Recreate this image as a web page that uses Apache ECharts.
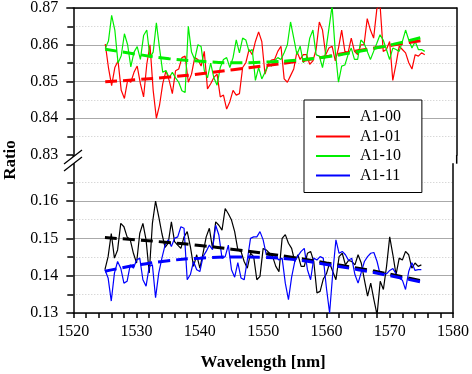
<!DOCTYPE html>
<html>
<head>
<meta charset="utf-8">
<script src="https://cdn.jsdelivr.net/npm/echarts@6/dist/echarts.min.js"></script>
<style>
  html, body { margin: 0; padding: 0; background: #fff; }
  #chart { width: 472px; height: 374px; }
</style>
</head>
<body>
<div id="chart"></div>
<script>
// wavelength grid [nm]
const wavelength = [
  1525, 1525.5, 1526, 1526.5, 1527, 1527.5, 1528, 1528.5, 1529, 1529.5,
  1530, 1530.5, 1531, 1531.5, 1532, 1532.5, 1533, 1533.5, 1534, 1534.5,
  1535, 1535.5, 1536, 1536.5, 1537, 1537.5, 1538, 1538.5, 1539, 1539.5,
  1540, 1540.5, 1541, 1541.5, 1542, 1542.5, 1543, 1543.5, 1544, 1544.5,
  1545, 1545.5, 1546, 1546.5, 1547, 1547.5, 1548, 1548.5, 1549, 1549.5,
  1550, 1550.5, 1551, 1551.5, 1552, 1552.5, 1553, 1553.5, 1554, 1554.5,
  1555, 1555.5, 1556, 1556.5, 1557, 1557.5, 1558, 1558.5, 1559, 1559.5,
  1560, 1560.5, 1561, 1561.5, 1562, 1562.5, 1563, 1563.5, 1564, 1564.5,
  1565, 1565.5, 1566, 1566.5, 1567, 1567.5, 1568, 1568.5, 1569, 1569.5,
  1570, 1570.5, 1571, 1571.5, 1572, 1572.5, 1573, 1573.5, 1574, 1574.5,
  1575
];

const a100 = [
  0.1416, 0.1451, 0.1513, 0.1447, 0.1469, 0.1540, 0.1531, 0.1504, 0.1496, 0.1460,
  0.1434, 0.1513, 0.1540, 0.1496, 0.1407, 0.1540, 0.1600, 0.1558, 0.1513, 0.1476,
  0.1487, 0.1544, 0.1491, 0.1482, 0.1473, 0.1504, 0.1518, 0.1478, 0.1425, 0.1456,
  0.1420, 0.1460, 0.1504, 0.1527, 0.1473, 0.1544, 0.1535, 0.1522, 0.1580, 0.1566,
  0.1549, 0.1518, 0.1469, 0.1465, 0.1438, 0.1420, 0.1460, 0.1451, 0.1389, 0.1398,
  0.1473, 0.1469, 0.1460, 0.1451, 0.1425, 0.1411, 0.1500, 0.1510, 0.1487, 0.1473,
  0.1438, 0.1456, 0.1425, 0.1425, 0.1460, 0.1465, 0.1438, 0.1354, 0.1358, 0.1391,
  0.1405, 0.1434, 0.1411, 0.1389, 0.1451, 0.1460, 0.1429, 0.1441, 0.1438, 0.1429,
  0.1456, 0.1434, 0.1389, 0.1345, 0.1380, 0.1336, 0.1295, 0.1385, 0.1363, 0.1425,
  0.1504, 0.1456, 0.1403, 0.1447, 0.1442, 0.1465, 0.1456, 0.1420, 0.1434, 0.1425,
  0.1429
];

const a101 = [
  0.8602, 0.8538, 0.8489, 0.8538, 0.8556, 0.8476, 0.8454, 0.8503, 0.8498, 0.8525,
  0.8542, 0.8494, 0.8458, 0.8547, 0.8600, 0.8476, 0.8400, 0.8436, 0.8494, 0.8529,
  0.8503, 0.8467, 0.8529, 0.8534, 0.8565, 0.8569, 0.8498, 0.8520, 0.8565, 0.8560,
  0.8542, 0.8582, 0.8480, 0.8494, 0.8511, 0.8520, 0.8458, 0.8463, 0.8425, 0.8445,
  0.8476, 0.8463, 0.8467, 0.8538, 0.8551, 0.8587, 0.8573, 0.8609, 0.8635, 0.8609,
  0.8520, 0.8547, 0.8558, 0.8560, 0.8582, 0.8596, 0.8507, 0.8498, 0.8516, 0.8534,
  0.8582, 0.8560, 0.8573, 0.8573, 0.8547, 0.8556, 0.8587, 0.8662, 0.8640, 0.8573,
  0.8591, 0.8596, 0.8556, 0.8591, 0.8640, 0.8582, 0.8578, 0.8618, 0.8582, 0.8573,
  0.8600, 0.8600, 0.8671, 0.8640, 0.8618, 0.8697, 0.8710, 0.8582, 0.8587, 0.8609,
  0.8503, 0.8547, 0.8596, 0.8587, 0.8578, 0.8551, 0.8534, 0.8573, 0.8569, 0.8578,
  0.8573
];

const a110 = [
  0.8590, 0.8610, 0.8680, 0.8640, 0.8550, 0.8570, 0.8630, 0.8600, 0.8540, 0.8580,
  0.8595, 0.8560, 0.8625, 0.8640, 0.8565, 0.8580, 0.8660, 0.8590, 0.8525, 0.8530,
  0.8510, 0.8525, 0.8510, 0.8498, 0.8475, 0.8470, 0.8650, 0.8580, 0.8560, 0.8600,
  0.8595, 0.8530, 0.8510, 0.8550, 0.8510, 0.8490, 0.8538, 0.8560, 0.8565, 0.8538,
  0.8565, 0.8613, 0.8578, 0.8618, 0.8613, 0.8582, 0.8587, 0.8503, 0.8538, 0.8507,
  0.8525, 0.8547, 0.8542, 0.8556, 0.8565, 0.8560, 0.8578, 0.8600, 0.8662, 0.8618,
  0.8573, 0.8596, 0.8551, 0.8565, 0.8618, 0.8640, 0.8573, 0.8569, 0.8538, 0.8582,
  0.8644, 0.8706, 0.8582, 0.8498, 0.8542, 0.8545, 0.8573, 0.8591, 0.8560, 0.8560,
  0.8613, 0.8604, 0.8582, 0.8560, 0.8582, 0.8604, 0.8627, 0.8613, 0.8587, 0.8560,
  0.8591, 0.8587, 0.8582, 0.8609, 0.8640, 0.8613, 0.8591, 0.8609, 0.8587, 0.8587,
  0.8582
];

const a111 = [
  0.1416, 0.1394, 0.1332, 0.1407, 0.1438, 0.1420, 0.1380, 0.1385, 0.1429, 0.1420,
  0.1442, 0.1447, 0.1389, 0.1372, 0.1425, 0.1429, 0.1341, 0.1407, 0.1447, 0.1482,
  0.1496, 0.1478, 0.1500, 0.1504, 0.1531, 0.1527, 0.1389, 0.1403, 0.1438, 0.1416,
  0.1411, 0.1451, 0.1465, 0.1482, 0.1470, 0.1535, 0.1509, 0.1447, 0.1451, 0.1482,
  0.1416, 0.1396, 0.1435, 0.1394, 0.1389, 0.1442, 0.1500, 0.1504, 0.1504, 0.1518,
  0.1496, 0.1456, 0.1454, 0.1447, 0.1451, 0.1442, 0.1447, 0.1380, 0.1336, 0.1396,
  0.1438, 0.1453, 0.1465, 0.1473, 0.1416, 0.1389, 0.1447, 0.1442, 0.1451, 0.1447,
  0.1367, 0.1300, 0.1407, 0.1496, 0.1460, 0.1465, 0.1456, 0.1441, 0.1447, 0.1403,
  0.1380, 0.1409, 0.1438, 0.1451, 0.1460, 0.1462, 0.1438, 0.1403, 0.1407, 0.1405,
  0.1414, 0.1419, 0.1405, 0.1394, 0.1388, 0.1363, 0.1411, 0.1435, 0.1414, 0.1416,
  0.1416
];

// fitted curves (dashed)
const fitWl = [1525, 1530, 1535, 1540, 1545, 1550, 1555, 1560, 1565, 1570, 1575];
const fit100 = [0.1502, 0.1496, 0.1489, 0.1481, 0.1471, 0.1460, 0.1448, 0.1434, 0.1420, 0.1404, 0.1386];
const fit101 = [0.8499, 0.8505, 0.8512, 0.8521, 0.8532, 0.8543, 0.8555, 0.8569, 0.8585, 0.8599, 0.8613];
const fit110 = [0.8588, 0.8574, 0.8562, 0.8555, 0.8551, 0.8553, 0.8558, 0.8568, 0.8583, 0.8601, 0.8622];
const fit111 = [0.1412, 0.1428, 0.1440, 0.1447, 0.1450, 0.1449, 0.1443, 0.1430, 0.1416, 0.1400, 0.1383];

const xTicks = [1520, 1580, 10];
const yTop = [0.83, 0.87];
const yBottom = [0.13, 0.17];

const FONT = "Liberation Serif";
const pair = (xs, ys) => xs.map((x, i) => [x, ys[i]]);

const plotL = 73.3, plotR = 15.3;
const topY = 5.7, bandH = 149.3, botY = 163.7;

function yAxisCfg(grid, range, showMax) {
  return {
    type: "value",
    gridIndex: grid,
    min: range[0],
    max: range[1],
    interval: 0.01,
    axisLine: { show: true, lineStyle: { color: "#000", width: 1.5 } },
    axisTick: { show: true, inside: false, length: 7, lineStyle: { color: "#000", width: 1.5 } },
    minorTick: { show: true, splitNumber: 2, length: 6, lineStyle: { color: "#000", width: 1.5 } },
    axisLabel: {
      fontFamily: FONT,
      fontSize: 16,
      color: "#000",
      margin: 15,
      formatter: (v) => (showMax || v < range[1] - 1e-9 ? v.toFixed(2) : ""),
    },
    splitLine: {
      show: true,
      showMinLine: grid === 1,
      showMaxLine: showMax,
      lineStyle: { color: "#aaa", width: 1 },
    },
    minorSplitLine: { show: true, lineStyle: { color: "#c8c8c8", width: 1, type: [1, 2] } },
  };
}

function rightAxis(grid, range) {
  return {
    type: "value",
    gridIndex: grid,
    position: "right",
    min: range[0],
    max: range[1],
    axisLine: { show: true, lineStyle: { color: "#000", width: 1.5 } },
    axisTick: { show: false },
    axisLabel: { show: false },
    splitLine: { show: false },
  };
}

function dataLine(name, color, values, xi, yi) {
  return {
    name,
    type: "line",
    xAxisIndex: xi,
    yAxisIndex: yi,
    symbol: "none",
    data: pair(wavelength, values),
    lineStyle: { color, width: 1.2 },
    itemStyle: { color },
  };
}

function fitLine(name, color, values, xi, yi) {
  return {
    name,
    type: "line",
    xAxisIndex: xi,
    yAxisIndex: yi,
    symbol: "none",
    smooth: true,
    data: pair(fitWl, values),
    lineStyle: { color, width: 3, type: [12, 6] },
    itemStyle: { color },
    z: 3,
  };
}

const chart = echarts.init(document.getElementById("chart"));
chart.setOption({
  backgroundColor: "#fff",
  animation: false,
  grid: [
    { left: plotL, right: plotR, top: topY, height: bandH },
    { left: plotL, right: plotR, top: botY, height: bandH },
  ],
  xAxis: [
    {
      type: "value",
      gridIndex: 0,
      position: "top",
      min: xTicks[0],
      max: xTicks[1],
      interval: xTicks[2],
      axisLine: { show: true, lineStyle: { color: "#000", width: 1.5 } },
      axisTick: { show: false },
      axisLabel: { show: false },
      splitLine: { show: false },
    },
    {
      type: "value",
      gridIndex: 1,
      min: xTicks[0],
      max: xTicks[1],
      interval: xTicks[2],
      name: "Wavelength [nm]",
      nameLocation: "middle",
      nameGap: 41,
      nameTextStyle: { fontFamily: FONT, fontSize: 17, fontWeight: "bold", color: "#000" },
      axisLine: { show: true, onZero: false, lineStyle: { color: "#000", width: 1.5 } },
      axisTick: { show: true, length: 5, lineStyle: { color: "#000", width: 1.5 } },
      minorTick: { show: true, splitNumber: 5, length: 5, lineStyle: { color: "#000", width: 1.5 } },
      axisLabel: {
        fontFamily: FONT,
        fontSize: 16,
        color: "#000",
        margin: 11,
        formatter: (v) => String(v),
      },
      splitLine: { show: false },
    },
  ],
  yAxis: [
    yAxisCfg(0, yTop, true),
    yAxisCfg(1, yBottom, false),
    rightAxis(0, yTop),
    rightAxis(1, yBottom),
  ],
  legend: {
    data: ["A1-00", "A1-01", "A1-10", "A1-11"],
    orient: "vertical",
    left: 304,
    top: 100,
    icon: "rect",
    itemWidth: 34,
    itemHeight: 2,
    itemGap: 3.5,
    padding: [9, 21, 9, 12],
    borderColor: "#000",
    borderWidth: 1,
    backgroundColor: "#fff",
    textStyle: { fontFamily: FONT, fontSize: 16, color: "#000", padding: [0, 0, 0, 5], lineHeight: 16 },
  },
  series: [
    dataLine("A1-00", "#000000", a100, 1, 1),
    dataLine("A1-01", "#ff0000", a101, 0, 0),
    dataLine("A1-10", "#00ee00", a110, 0, 0),
    dataLine("A1-11", "#0000ff", a111, 1, 1),
    fitLine("fit A1-00", "#000000", fit100, 1, 1),
    fitLine("fit A1-11", "#0000ff", fit111, 1, 1),
    fitLine("fit A1-01", "#ff0000", fit101, 0, 0),
    fitLine("fit A1-10", "#00ee00", fit110, 0, 0),
  ],
  graphic: [
    {
      type: "text",
      x: 11,
      y: 160,
      rotation: Math.PI / 2,
      style: {
        text: "Ratio",
        fontFamily: FONT,
        fontSize: 17,
        fontWeight: "bold",
        fill: "#000",
        align: "center",
        verticalAlign: "middle",
      },
    },
    // frame bits across the axis break
    {
      type: "line",
      shape: { x1: 472 - plotR, y1: topY + bandH, x2: 472 - plotR, y2: botY },
      style: { stroke: "#000", lineWidth: 1.5 },
    },
    {
      type: "line",
      shape: { x1: plotL, y1: topY + bandH, x2: plotL, y2: botY },
      style: { stroke: "#000", lineWidth: 1.5 },
    },
    {
      type: "polygon",
      shape: { points: [[64, 164], [82, 150], [82, 157], [64, 171]] },
      style: { fill: "#fff" },
      z: 10,
    },
    {
      type: "line",
      shape: { x1: 64, y1: 164, x2: 82, y2: 150 },
      style: { stroke: "#000", lineWidth: 1.3 },
      z: 11,
    },
    {
      type: "line",
      shape: { x1: 64, y1: 171, x2: 82, y2: 157 },
      style: { stroke: "#000", lineWidth: 1.3 },
      z: 11,
    },
  ],
});
</script>
</body>
</html>
